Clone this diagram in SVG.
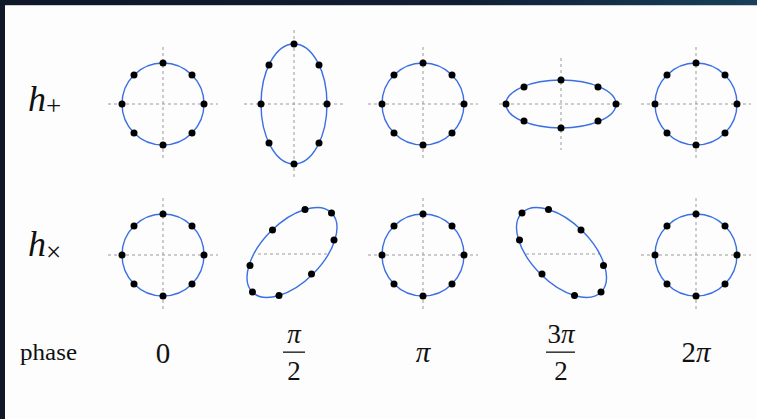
<svg xmlns="http://www.w3.org/2000/svg" width="757" height="419" viewBox="0 0 757 419">
<defs>
<linearGradient id="bar" x1="0" y1="0" x2="1" y2="0">
<stop offset="0" stop-color="#0f1729"/>
<stop offset="0.6" stop-color="#101d33"/>
<stop offset="1" stop-color="#17405a"/>
</linearGradient>
<style>
.ax{stroke:#9a9a9a;stroke-width:1;stroke-dasharray:3 3;fill:none}
.ring{stroke:#3b6fe3;stroke-width:1.4;fill:none}
.d{fill:#000}
.m{fill:#111}
.it{font-style:italic}
</style>
</defs>
<rect width="757" height="419" fill="#fdfdfd"/>
<rect x="0" y="0" width="757" height="5" fill="url(#bar)"/>
<rect x="0" y="5" width="757" height="1" fill="#c9cdd2"/>
<rect x="0" y="0" width="5" height="419" fill="#0f1729"/>

<g id="connectors">
<path class="ax" d="M108 104H218M163 47V161"/>
<path class="ax" d="M244 104H344M294 30V178"/>
<path class="ax" d="M368 104H478M423 47V161"/>
<path class="ax" d="M499 104H623M561 58V150"/>
<path class="ax" d="M641 104H751M696 47V161"/>
<path class="ax" d="M108 255H218M163 198V312"/>
<path class="ax" d="M258 254H327"/>
<path class="ax" d="M368 255H478M423 198V312"/>
<path class="ax" d="M526 254H600"/>
<path class="ax" d="M641 255H751M696 198V312"/>
</g>

<g id="hplus-0">
<circle class="ring" cx="163" cy="104" r="41"/>
<g class="d"><circle cx="204" cy="104" r="3.5"/><circle cx="192" cy="75" r="3.5"/><circle cx="163" cy="63" r="3.5"/><circle cx="134" cy="75" r="3.5"/><circle cx="122" cy="104" r="3.5"/><circle cx="134" cy="133" r="3.5"/><circle cx="163" cy="145" r="3.5"/><circle cx="192" cy="133" r="3.5"/></g>
</g>
<g id="hplus-pi2">
<ellipse class="ring" cx="294" cy="104" rx="33" ry="60"/>
<g class="d"><circle cx="327" cy="104" r="3.5"/><circle cx="319" cy="65" r="3.5"/><circle cx="294" cy="44" r="3.5"/><circle cx="269" cy="65" r="3.5"/><circle cx="261" cy="104" r="3.5"/><circle cx="269" cy="143" r="3.5"/><circle cx="294" cy="164" r="3.5"/><circle cx="319" cy="143" r="3.5"/></g>
</g>
<g id="hplus-pi">
<circle class="ring" cx="423" cy="104" r="41"/>
<g class="d"><circle cx="464" cy="104" r="3.5"/><circle cx="452" cy="75" r="3.5"/><circle cx="423" cy="63" r="3.5"/><circle cx="394" cy="75" r="3.5"/><circle cx="382" cy="104" r="3.5"/><circle cx="394" cy="133" r="3.5"/><circle cx="423" cy="145" r="3.5"/><circle cx="452" cy="133" r="3.5"/></g>
</g>
<g id="hplus-3pi2">
<ellipse class="ring" cx="561" cy="104" rx="55" ry="24"/>
<g class="d"><circle cx="616" cy="104" r="3.5"/><circle cx="598" cy="87" r="3.5"/><circle cx="561" cy="80" r="3.5"/><circle cx="524" cy="87" r="3.5"/><circle cx="506" cy="104" r="3.5"/><circle cx="524" cy="121" r="3.5"/><circle cx="561" cy="128" r="3.5"/><circle cx="598" cy="121" r="3.5"/></g>
</g>
<g id="hplus-2pi">
<circle class="ring" cx="696" cy="104" r="41"/>
<g class="d"><circle cx="737" cy="104" r="3.5"/><circle cx="725" cy="75" r="3.5"/><circle cx="696" cy="63" r="3.5"/><circle cx="667" cy="75" r="3.5"/><circle cx="655" cy="104" r="3.5"/><circle cx="667" cy="133" r="3.5"/><circle cx="696" cy="145" r="3.5"/><circle cx="725" cy="133" r="3.5"/></g>
</g>

<g id="hcross-0">
<circle class="ring" cx="163" cy="255" r="41"/>
<g class="d"><circle cx="204" cy="255" r="3.5"/><circle cx="192" cy="226" r="3.5"/><circle cx="163" cy="214" r="3.5"/><circle cx="134" cy="226" r="3.5"/><circle cx="122" cy="255" r="3.5"/><circle cx="134" cy="284" r="3.5"/><circle cx="163" cy="296" r="3.5"/><circle cx="192" cy="284" r="3.5"/></g>
</g>
<g id="hcross-pi2">
<ellipse class="ring" cx="292" cy="252.5" rx="56" ry="30" transform="rotate(-45 292 252.5)"/>
<g class="d"><circle cx="334" cy="240" r="3.5"/><circle cx="331.5" cy="213" r="3.5"/><circle cx="305" cy="209.5" r="3.5"/><circle cx="272.5" cy="230" r="3.5"/><circle cx="250" cy="265.5" r="3.5"/><circle cx="252.5" cy="292" r="3.5"/><circle cx="279" cy="295.5" r="3.5"/><circle cx="311.5" cy="274" r="3.5"/></g>
</g>
<g id="hcross-pi">
<circle class="ring" cx="423" cy="255" r="41"/>
<g class="d"><circle cx="464" cy="255" r="3.5"/><circle cx="452" cy="226" r="3.5"/><circle cx="423" cy="214" r="3.5"/><circle cx="394" cy="226" r="3.5"/><circle cx="382" cy="255" r="3.5"/><circle cx="394" cy="284" r="3.5"/><circle cx="423" cy="296" r="3.5"/><circle cx="452" cy="284" r="3.5"/></g>
</g>
<g id="hcross-3pi2">
<ellipse class="ring" cx="561.5" cy="252.5" rx="56" ry="30" transform="rotate(45 561.5 252.5)"/>
<g class="d"><circle cx="519.5" cy="240" r="3.5"/><circle cx="522" cy="213" r="3.5"/><circle cx="548.5" cy="209.5" r="3.5"/><circle cx="581" cy="230" r="3.5"/><circle cx="603.5" cy="265.5" r="3.5"/><circle cx="601" cy="292" r="3.5"/><circle cx="574.5" cy="295.5" r="3.5"/><circle cx="542" cy="274" r="3.5"/></g>
</g>
<g id="hcross-2pi">
<circle class="ring" cx="696" cy="255" r="41"/>
<g class="d"><circle cx="737" cy="255" r="3.5"/><circle cx="725" cy="226" r="3.5"/><circle cx="696" cy="214" r="3.5"/><circle cx="667" cy="226" r="3.5"/><circle cx="655" cy="255" r="3.5"/><circle cx="667" cy="284" r="3.5"/><circle cx="696" cy="296" r="3.5"/><circle cx="725" cy="284" r="3.5"/></g>
</g>

<g id="labels" font-family="'Liberation Serif', 'DejaVu Serif', serif">
<g id="label-hplus">
<text class="m" x="28" y="111" font-size="36"><tspan class="it">h</tspan><tspan font-size="27" dy="4">+</tspan></text>
</g>
<g id="label-hcross">
<text class="m" x="28" y="256" font-size="36"><tspan class="it">h</tspan><tspan font-size="27" dy="5">×</tspan></text>
</g>

<g id="phase-row">
<text class="m" x="20" y="360" font-size="23" textLength="57" lengthAdjust="spacingAndGlyphs">phase</text>
<text class="m" x="163" y="363" font-size="29" text-anchor="middle">0</text>
<text class="m it" x="294" y="343" font-size="27" text-anchor="middle">π</text>
<rect x="283" y="351.5" width="22" height="1.3" fill="#111"/>
<text class="m" x="294" y="380" font-size="27" text-anchor="middle">2</text>
<text class="m it" x="423" y="362" font-size="29" text-anchor="middle">π</text>
<text class="m" x="561" y="343" font-size="27" text-anchor="middle">3<tspan class="it">π</tspan></text>
<rect x="546" y="351.5" width="29" height="1.3" fill="#111"/>
<text class="m" x="561" y="380" font-size="27" text-anchor="middle">2</text>
<text class="m" x="696" y="362" font-size="29" text-anchor="middle">2<tspan class="it">π</tspan></text>
</g>
</g>
</svg>
